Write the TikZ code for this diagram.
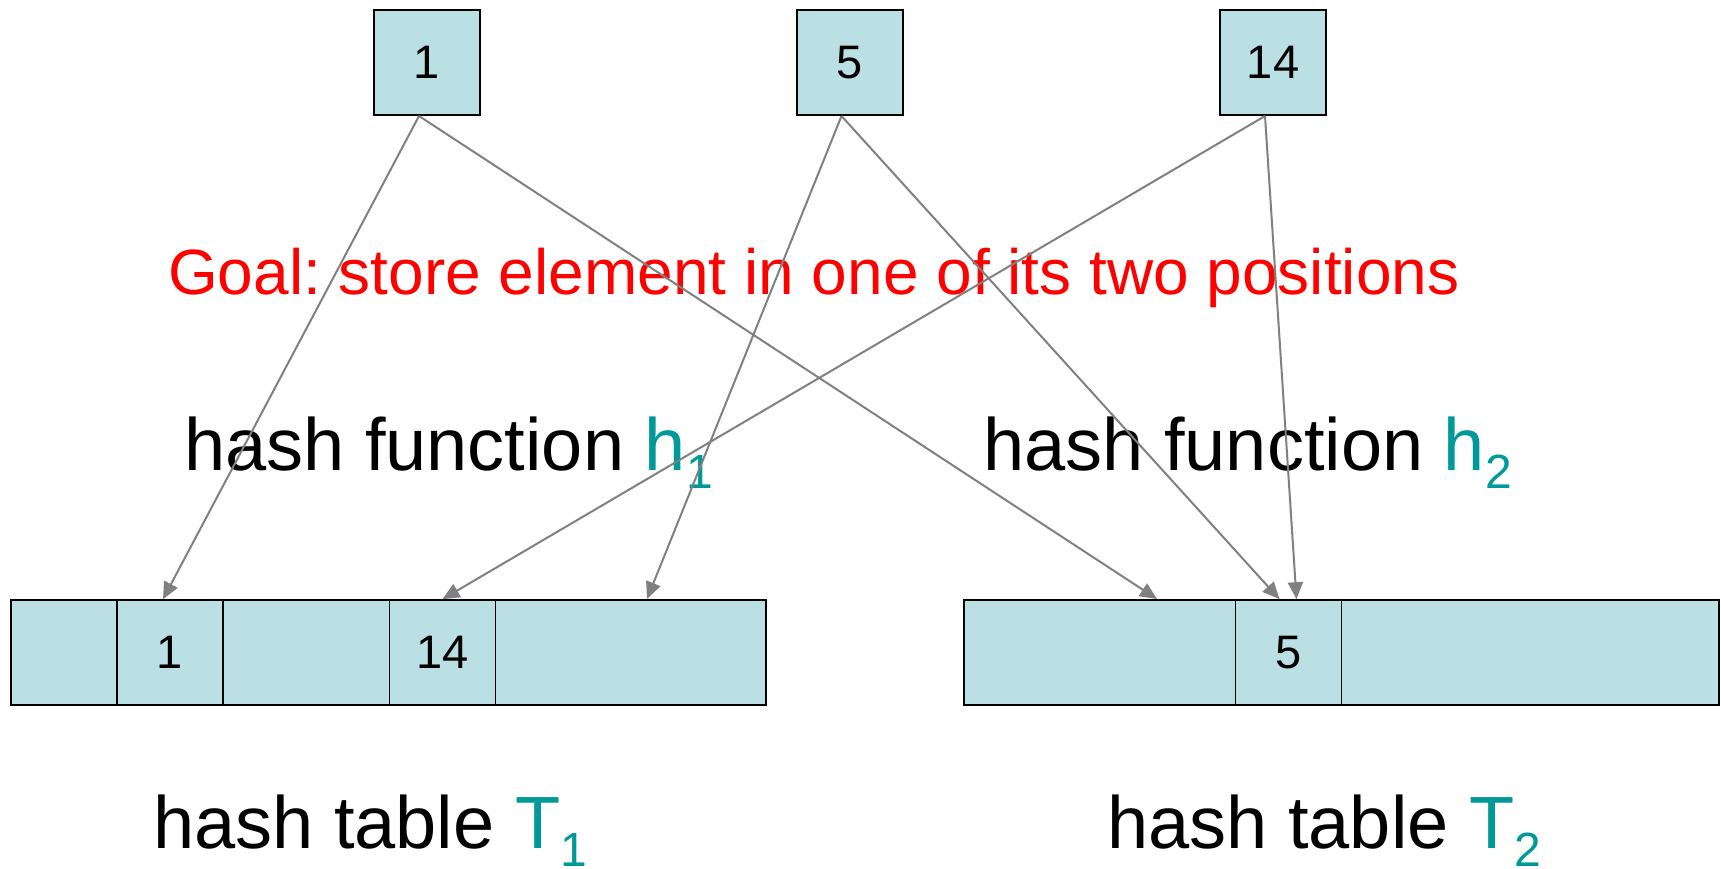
\documentclass[tikz,border=0pt]{standalone}
\usepackage{fontspec}
\setmainfont{Liberation Sans}
\frenchspacing
\definecolor{cellfill}{HTML}{BBE0E3}
\definecolor{hashteal}{HTML}{009999}
\definecolor{goalred} {HTML}{FF0000}
\definecolor{wire}    {HTML}{808080}
\usetikzlibrary{positioning,calc,arrows.meta}
\newcommand{\tealsub}[2]{{\color{hashteal}#1\raisebox{-18pt}{\fontsize{48}{48}\selectfont #2}}}
\tikzset{
  keybox/.style={draw=black,line width=2pt,fill=cellfill,minimum width=106pt,
                 minimum height=105pt,inner sep=0pt,font=\fontsize{47}{50}\selectfont},
  tablebox/.style={draw=black,line width=2pt,fill=cellfill,minimum width=755pt,
                   minimum height=105pt,inner sep=0pt},
  slot/.style={draw=black,line width=1.6pt,fill=cellfill,minimum width=106pt,
               minimum height=105pt,inner sep=0pt,font=\fontsize{47}{50}\selectfont},
  flow/.style={->,>={Triangle[length=17pt,width=15pt]},line width=2pt,draw=wire},
  goaltext/.style={anchor=base west,inner sep=0pt,text=goalred,
                   font=\fontsize{64}{70}\selectfont},
  caption/.style={anchor=base west,inner sep=0pt,text=black,
                  font=\fontsize{74}{80}\selectfont}
}
\begin{document}
\begin{tikzpicture}[x=1pt,y=-1pt]
  \useasboundingbox (0,0) rectangle (1721,868);
  % keys to be stored
  \node[keybox] (k1)  at (427,62.5)  {1};
  \node[keybox] (k5)  at (849.5,62.5) {5};
  \node[keybox] (k14) at (1273,62.5) {14};
  % the two tables
  \node[tablebox] (T1) at (388.5,652.5) {};
  \node[tablebox] (T2) at (1341.5,652.5) {};
  \node[slot] (s1)  at (170,652.5)   {1};
  \node[slot] (s14) at (442.5,652.5) {14};
  \node[slot] (s5)  at (1288.5,652.5) {5};
  % labels
  \node[goaltext] (goal) at (168,294) {Goal: store element in one of its two positions};
  \node[caption] (fn1) at (184,470)  {hash function \tealsub{h}{1}};
  \node[caption] (fn2) at (983,470)  {hash function \tealsub{h}{2}};
  \node[caption] (tb1) at (153,848)  {hash table \tealsub{T}{1}};
  \node[caption] (tb2) at (1107,848) {hash table \tealsub{T}{2}};
  % where the arrows leave and land
  \coordinate (k1out)  at ([xshift=-8pt]k1.south);
  \coordinate (k5out)  at ([xshift=-8pt]k5.south);
  \coordinate (k14out) at ([xshift=-8pt]k14.south);
  \coordinate (h1of1)  at ([xshift=-7pt]s1.north);
  \coordinate (h1of14) at (s14.north);
  \coordinate (h1of5)  at (647,599);
  \coordinate (h2of1)  at (1157,599);
  \coordinate (h2of5)  at ([xshift=-9pt]s5.north);
  \coordinate (h2of14) at ([xshift=8pt]s5.north);
  \draw[flow] (k1out)  -- (h1of1);
  \draw[flow] (k1out)  -- (h2of1);
  \draw[flow] (k5out)  -- (h1of5);
  \draw[flow] (k5out)  -- (h2of5);
  \draw[flow] (k14out) -- (h1of14);
  \draw[flow] (k14out) -- (h2of14);
\end{tikzpicture}
\end{document}
